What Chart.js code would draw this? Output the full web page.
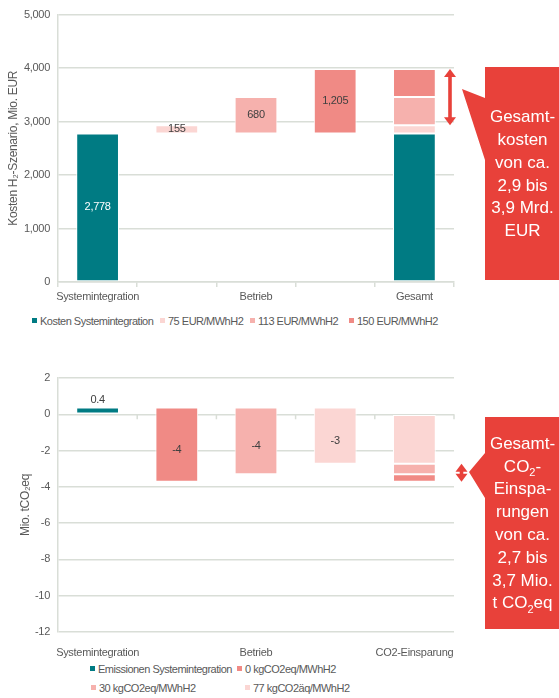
<!DOCTYPE html>
<html>
<head>
<meta charset="utf-8">
<script src="https://cdn.jsdelivr.net/npm/chart.js@4.4.1/dist/chart.umd.min.js"></script>
<style>
  body { margin: 0; background: #fff; font-family: "Liberation Sans", Arial, sans-serif; }
  #wrap { position: relative; width: 559px; height: 698px; overflow: hidden; }
  .cv { position: absolute; left: 0; }
  .lg { position: absolute; font-size: 11px; color: #595959; white-space: nowrap; line-height: 12px; letter-spacing: -0.5px; }
  .lg i { display: inline-block; width: 5px; height: 5px; margin-right: 3px; vertical-align: 2px; }
</style>
</head>
<body>
<div id="wrap">
  <div class="cv" style="top:0;width:559px;height:310px"><canvas id="cost"></canvas></div>
  <div class="cv" style="top:350px;width:559px;height:310px"><canvas id="co2"></canvas></div>
</div>
<script>
// --- data: kosten ---
const costCategories = ['Systemintegration', '', 'Betrieb', '', 'Gesamt'];
const costSeries = ['Kosten Systemintegration', '75 EUR/MWhH2', '113 EUR/MWhH2', '150 EUR/MWhH2'];
const costBase = 2778;
const costExtra = [155, 680, 1205];   // 75, 113, 150 EUR/MWhH2
const costTicks = [0, 5000, 1000];   // min, max, step

// --- data: co2 ---
const co2Categories = ['Systemintegration', '', 'Betrieb', '', 'CO2-Einsparung'];
const co2Series = ['Emissionen Systemintegration', '0 kgCO2eq/MWhH2', '30 kgCO2eq/MWhH2', '77 kgCO2äq/MWhH2'];
const co2Emission = 0.37;
const co2Saving = [-4.09, -3.67, -3.09];  // 0, 30, 77 kgCO2eq/MWhH2
const co2Ticks = [-12, 2, 2];

// colours
const teal = '#007b83';
const pinkDark = '#f08a85', pinkMid = '#f6b1ad', pinkLight = '#fbd6d3';
const red = '#e8413a';
const gridCol = '#d9ded7';
const txt = '#595959';

Chart.defaults.font.family = '"Liberation Sans", Arial, sans-serif';
Chart.defaults.font.size = 11;
Chart.defaults.color = txt;

// build the floating ranges
const costColors = [pinkLight, pinkMid, pinkDark];
const costData = [[[0, costBase], null, null, null, [0, costBase]]];
costExtra.forEach((v, k) => {
  const row = [null, null, null, null, null];
  row[k + 1] = [costBase, costBase + v];
  row[4] = [costBase + (k ? costExtra[k - 1] : 0), costBase + v];
  costData.push(row);
});

const co2Colors = [pinkDark, pinkMid, pinkLight];
const co2Net = co2Saving.map(v => co2Emission + v);
const co2Sorted = co2Net.slice().sort((a, b) => b - a);
const co2Data = [[[0, co2Emission], null, null, null, null]];
co2Net.forEach((v, k) => {
  const row = [null, null, null, null, null];
  row[k + 1] = [co2Emission, v];
  const idx = co2Sorted.indexOf(v);
  row[4] = [idx ? co2Sorted[idx - 1] : 0, v];
  co2Data.push(row);
});

function makeSets(names, data, colors) {
  return names.map((n, i) => ({
    label: n,
    data: data[i],
    backgroundColor: i === 0 ? teal : colors[i - 1],
    borderColor: '#ffffff',
    borderWidth: 1,
    borderSkipped: false,
    grouped: false,
    barPercentage: 0.54,
    categoryPercentage: 1,
  }));
}

// narrower text, like the original
const tightText = {
  id: 'tightText',
  beforeDraw(chart) { chart.ctx.letterSpacing = '-0.3px'; }
};

// labels in the bars
const barLabels = {
  id: 'barLabels',
  afterDatasetsDraw(chart, args, opts) {
    const ctx = chart.ctx;
    ctx.save();
    ctx.font = '11px "Liberation Sans", Arial, sans-serif';
    ctx.textAlign = 'center';
    ctx.textBaseline = 'middle';
    (opts.items || []).forEach(it => {
      const el = chart.getDatasetMeta(it.ds).data[it.i];
      if (!el) return;
      let y = (el.y + el.base) / 2 + (it.dy || 0);
      if (it.above) y = Math.min(el.y, el.base) - 8;
      ctx.fillStyle = it.color || '#404040';
      ctx.fillText(it.text, el.x, y);
    });
    ctx.restore();
  }
};

// little tick marks on the zero line
const zeroTicks = {
  id: 'zeroTicks',
  afterDraw(chart, args, opts) {
    if (!opts.on) return;
    const ctx = chart.ctx, x = chart.scales.x, y0 = chart.scales.y.getPixelForValue(0);
    ctx.save();
    ctx.strokeStyle = gridCol;
    ctx.lineWidth = 1.5;
    for (let i = 1; i < x.ticks.length; i++) {
      const px = (x.getPixelForValue(i - 1) + x.getPixelForValue(i)) / 2;
      ctx.beginPath(); ctx.moveTo(px, y0); ctx.lineTo(px, y0 + 5); ctx.stroke();
    }
    const pr = x.right;
    ctx.beginPath(); ctx.moveTo(pr, y0); ctx.lineTo(pr, y0 + 5); ctx.stroke();
    ctx.restore();
  }
};

// arrow + callout box
const callout = {
  id: 'callout',
  afterDraw(chart, args, o) {
    if (!o.lines) return;
    const ctx = chart.ctx, ys = chart.scales.y;
    ctx.save();
    ctx.letterSpacing = '0px';
    ctx.fillStyle = red;
    // double arrow
    const ya = ys.getPixelForValue(o.from), yb = ys.getPixelForValue(o.to);
    const top = Math.min(ya, yb), bot = Math.max(ya, yb), ax = o.arrowX;
    const hw = 6, hl = 8, sw = 1.8;
    ctx.beginPath();
    ctx.moveTo(ax, top);
    ctx.lineTo(ax + hw, top + hl);
    ctx.lineTo(ax + sw, top + hl);
    ctx.lineTo(ax + sw, bot - hl);
    ctx.lineTo(ax + hw, bot - hl);
    ctx.lineTo(ax, bot);
    ctx.lineTo(ax - hw, bot - hl);
    ctx.lineTo(ax - sw, bot - hl);
    ctx.lineTo(ax - sw, top + hl);
    ctx.lineTo(ax - hw, top + hl);
    ctx.closePath();
    ctx.fill();
    // box with wedge
    const b = o.box;
    ctx.beginPath();
    ctx.moveTo(b.x1, b.y1);
    ctx.lineTo(b.x2, b.y1);
    ctx.lineTo(b.x2, b.y2);
    ctx.lineTo(b.x1, b.y2);
    ctx.lineTo(b.x1, o.wedge[2]);
    ctx.lineTo(o.wedge[0], o.wedge[1]);
    ctx.lineTo(b.x1, o.wedge[3]);
    ctx.closePath();
    ctx.fill();
    // text
    ctx.fillStyle = '#ffffff';
    ctx.textBaseline = 'middle';
    ctx.textAlign = 'left';
    const big = '17px "Liberation Sans", Arial, sans-serif';
    const small = '11px "Liberation Sans", Arial, sans-serif';
    const lh = 22.8, cx = (b.x1 + b.x2) / 2;
    const cy = (b.y1 + b.y2) / 2 + 1;
    const y0 = cy - (o.lines.length - 1) * lh / 2;
    o.lines.forEach((line, li) => {
      const segs = line.split(/(_\d)/).filter(s => s);
      let w = 0;
      segs.forEach(s => { ctx.font = s[0] === '_' ? small : big; w += ctx.measureText(s[0] === '_' ? s.slice(1) : s).width; });
      let x = cx - w / 2;
      const y = y0 + li * lh;
      segs.forEach(s => {
        const sub = s[0] === '_';
        const t = sub ? s.slice(1) : s;
        ctx.font = sub ? small : big;
        ctx.fillText(t, x, sub ? y + 6 : y);
        x += ctx.measureText(t).width;
      });
    });
    ctx.restore();
  }
};

Chart.register(tightText, barLabels, zeroTicks, callout);

function baseOptions(tk, title, padLeft, yFmt, padTop) {
  return {
    responsive: true,
    maintainAspectRatio: false,
    animation: false,
    layout: { padding: { left: padLeft, right: 105, top: padTop, bottom: 0 } },
    plugins: { legend: { display: false }, tooltip: { enabled: false } },
    scales: {
      x: {
        offset: true,
        grid: { display: false },
        border: { display: false },
        ticks: { color: txt, padding: 6, maxRotation: 0, autoSkip: false, font: { size: 11 } },
        afterFit: s => { s.height = 28; },
      },
      y: {
        min: tk[0], max: tk[1],
        ticks: { stepSize: tk[2], color: txt, padding: 8, callback: yFmt, font: { size: 11 } },
        grid: { color: gridCol, lineWidth: 1.5, drawTicks: false },
        border: { display: true, color: gridCol, width: 1.5 },
        title: { display: true, text: title, color: txt, font: { size: 12 }, padding: { top: 6, bottom: 0 } },
        afterFit: s => { s.width = 58 - padLeft; },
      },
    },
  };
}

// --- chart 1: kosten ---
const opt1 = baseOptions(costTicks, 'Kosten H\u2082-Szenario, Mio. EUR', 0, v => v.toLocaleString('en-US'), 13);
opt1.scales.x.grid = { display: true, drawOnChartArea: false, offset: true, color: gridCol, lineWidth: 1.5, tickLength: 5 };
opt1.scales.x.border = { display: true, color: gridCol, width: 1.5 };
opt1.scales.x.ticks.padding = 3;
opt1.plugins.barLabels = {
  items: [
    { ds: 0, i: 0, text: costBase.toLocaleString('en-US'), color: '#ffffff' },
    ...costExtra.map((v, k) => ({ ds: k + 1, i: k + 1, text: v.toLocaleString('en-US') })),
  ]
};
opt1.plugins.callout = {
  arrowX: 450,
  from: costBase + costExtra[0],
  to: costBase + costExtra[2],
  box: { x1: 485, x2: 560, y1: 67, y2: 280 },
  wedge: [462, 89, 98, 160],
  lines: ['Gesamt-', 'kosten', 'von ca.', '2,9 bis', '3,9 Mrd.', 'EUR'],
};
new Chart(document.getElementById('cost'), {
  type: 'bar',
  data: { labels: costCategories, datasets: makeSets(costSeries, costData, costColors) },
  options: opt1,
});

// --- chart 2: co2 ---
const opt2 = baseOptions(co2Ticks, 'Mio. tCO\u2082eq', 12, v => v, 28);
opt2.plugins.barLabels = {
  items: [
    { ds: 0, i: 0, text: co2Emission.toFixed(1), above: true },
    ...co2Saving.map((v, k) => ({ ds: k + 1, i: k + 1, text: String(Math.round(v)), dy: 5 })),
  ]
};
opt2.plugins.zeroTicks = { on: true };
opt2.plugins.callout = {
  arrowX: 461.5,
  from: co2Net[2],
  to: co2Net[0],
  box: { x1: 485, x2: 560, y1: 67, y2: 279 },
  wedge: [469, 122, 103, 148],
  lines: ['Gesamt-', 'CO_2-', 'Einspa-', 'rungen', 'von ca.', '2,7 bis', '3,7 Mio.', 't CO_2eq'],
};
new Chart(document.getElementById('co2'), {
  type: 'bar',
  data: { labels: co2Categories, datasets: makeSets(co2Series, co2Data, co2Colors) },
  options: opt2,
});

// --- legends (html) ---
const wrap = document.getElementById('wrap');
function legendItem(text, color, x, y) {
  const d = document.createElement('div');
  d.className = 'lg';
  d.style.left = x + 'px';
  d.style.top = (y - 6) + 'px';
  d.innerHTML = '<i style="background:' + color + '"></i>' + text;
  wrap.appendChild(d);
}
const costLegendX = [32, 160, 250, 349];
costSeries.forEach((s, i) => legendItem(s, i ? costColors[i - 1] : teal, costLegendX[i], 321));
const co2LegendPos = [[90, 669], [237, 669], [91, 688], [245, 688]];
co2Series.forEach((s, i) => legendItem(s, i ? co2Colors[i - 1] : teal, co2LegendPos[i][0], co2LegendPos[i][1]));
</script>
</body>
</html>
